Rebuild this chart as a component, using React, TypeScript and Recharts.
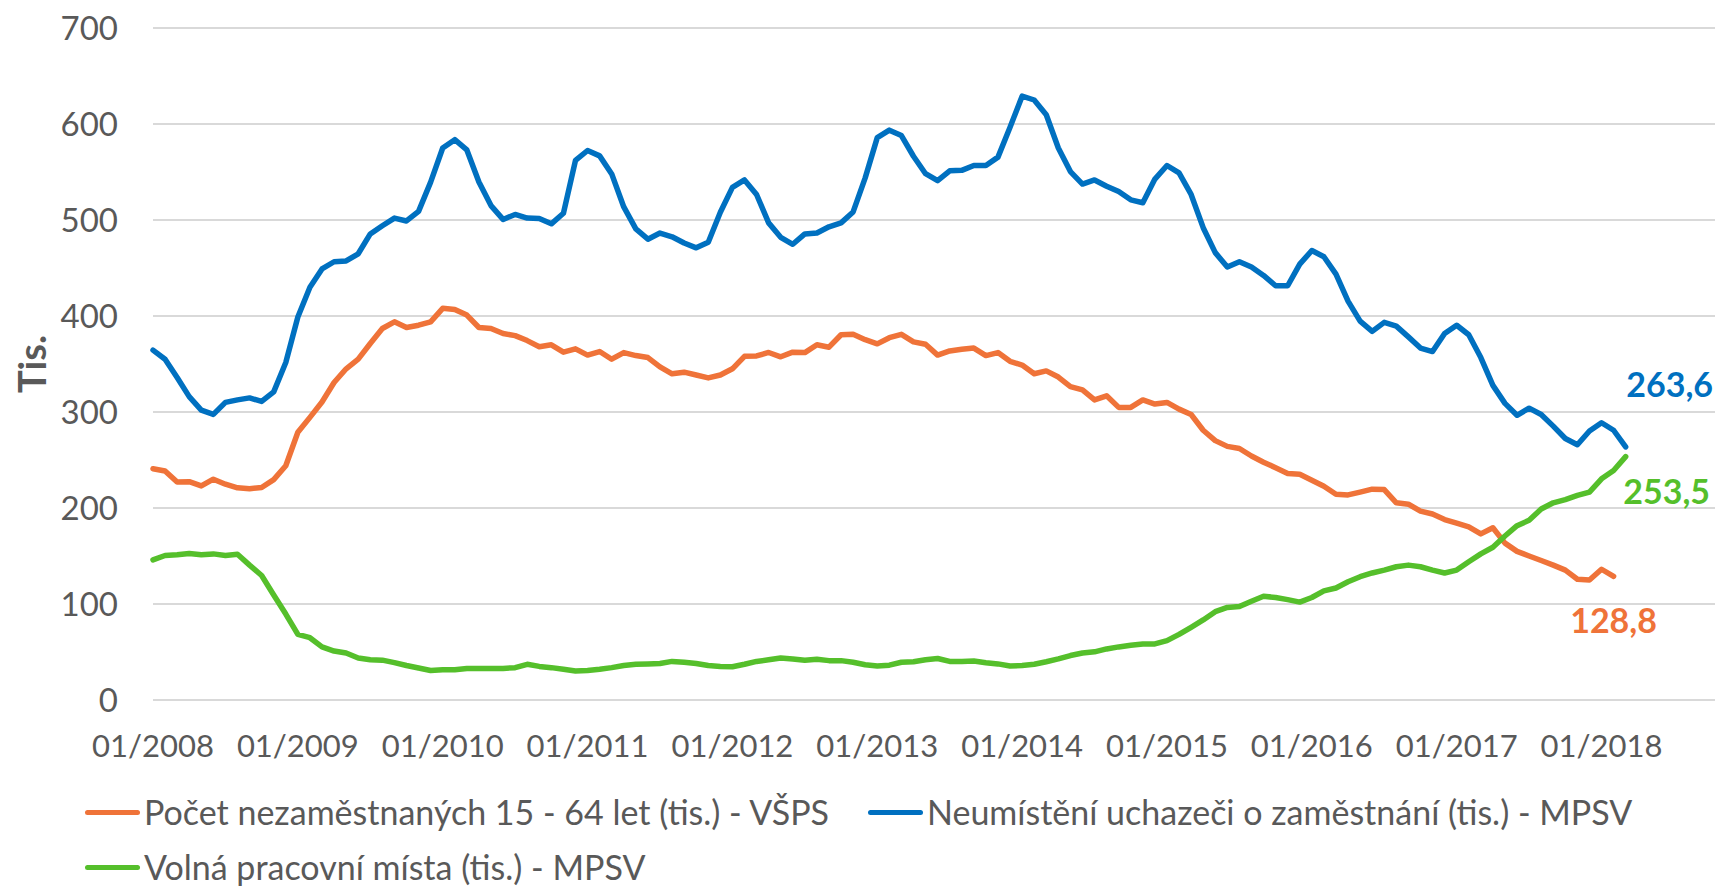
import React from 'react'
import { LineChart, Line, XAxis, YAxis, CartesianGrid } from 'recharts'

// months from 01/2008, index 0 = 01/2008
const unemployedVsps = [
  240.8, 238.6, 227, 227.4, 223, 230, 224.8, 221, 220, 221.4, 229.6, 244,
  278.9, 294.4, 310.4, 330.7, 345, 355, 371.4, 387, 393.9, 388, 390.4, 393.9,
  408, 406.8, 401, 388, 387, 381.8, 379.6, 374.4, 368, 370, 362.3, 365.8,
  359.3, 363, 355, 361.9, 358.8, 356.7, 347, 339.8, 341.5, 338.5, 335.5, 338.5,
  345, 358, 358.4, 362, 357.5, 362.3, 361.9, 370, 367.5, 380.5, 380.9, 375.3,
  371, 377.4, 380.9, 373, 370.5, 359.3, 363.6, 365.3, 366.6, 358.8, 361.9, 352.8,
  348.9, 339.8, 342.8, 336.4, 326.4, 323, 312.6, 316.9, 304.8, 304.8, 312.6, 308.3,
  310, 303, 297.4, 281, 270.2, 264.2, 262, 254.2, 247.7, 242, 236, 235.2,
  229, 222.7, 214.4, 213.6, 216.6, 219.6, 219.2, 205.4, 204, 196.7, 193.7, 188,
  184.2, 180.3, 173, 179.4, 163.4, 154.8, 150, 145.3, 140.5, 135.3, 125.8, 125,
  136.2, 128.8,
]

const jobSeekersMpsv = [
  364.5, 355, 336, 316, 302, 297.5, 310, 312.6, 314.7, 311, 321, 351.5,
  399, 430, 449, 456.5, 457.4, 464.8, 485.5, 494, 502, 499, 509, 539.5,
  575, 583.7, 573, 539.5, 515, 500.6, 505.8, 502, 501.5, 496, 507, 562,
  572.4, 566.8, 548, 513.6, 490.7, 480, 486.4, 482.5, 476, 471, 476.9, 508,
  534, 541.7, 526.6, 497, 482, 474.7, 485.5, 486.4, 492.9, 497, 508.4, 543.9,
  585.8, 593.6, 588, 566.4, 548.2, 540.9, 551.2, 551.7, 556.8, 556.8, 565.5, 596.6,
  629, 625, 609.6, 575, 550.4, 537.4, 541.7, 535.2, 529.6, 521, 518, 542.6,
  556.8, 549, 526.6, 492, 466, 451, 456.5, 451, 442.3, 431.5, 431.5, 454,
  468.2, 461.7, 443.6, 415.5, 394.7, 384, 393.4, 389.5, 378.3, 366.6, 363, 381.8,
  390.4, 380.5, 356.7, 327.7, 309, 296.6, 304, 297.4, 285.3, 272.4, 265.9, 280.2,
  288.8, 281, 263.6,
]

const vacanciesMpsv = [
  146, 150.5, 151.3, 152.6, 151.3, 152.2, 150.5, 151.8, 140.5, 129.7, 109.4, 89.5,
  68.3, 64.9, 55.3, 51, 48.9, 43.7, 41.9, 41.5, 38.9, 35.9, 33.3, 30.7,
  31.6, 31.6, 32.9, 32.9, 32.9, 32.9, 33.7, 37.2, 35, 33.7, 32, 30.3,
  30.7, 32, 33.7, 35.9, 37.2, 37.6, 38, 40.2, 39.3, 38, 35.9, 35,
  34.6, 37.2, 40.2, 41.9, 43.7, 42.8, 41.5, 42.4, 41, 41, 39.3, 36.7,
  35.5, 36.3, 39.3, 39.8, 41.9, 43.2, 40.2, 40.2, 40.6, 38.9, 37.6, 35.5,
  35.9, 37.2, 39.8, 42.8, 46.3, 48.9, 50.2, 53.2, 55.3, 57, 58.4, 58.4,
  61.8, 68.3, 75.7, 83.4, 92, 96.4, 97.3, 102.9, 108, 106.8, 104.6, 102,
  106.8, 113.7, 116.7, 123.2, 128.4, 132.3, 135.3, 138.8, 140.5, 138.8, 135.3, 132.3,
  135.3, 144, 152.2, 159.1, 170.8, 181.6, 187.2, 198.9, 205.4, 208.8, 213.1, 216.6,
  230.4, 239, 253.5,
]

const xTicks = [0, 12, 24, 36, 48, 60, 72, 84, 96, 108, 120]
const yTicks = [0, 100, 200, 300, 400, 500, 600, 700]

const series = [
  { key: 'vsps', name: 'Počet nezaměstnaných 15 - 64 let (tis.) - VŠPS', color: '#EF7339', labelDx: 0, labelDy: 44 },
  { key: 'seekers', name: 'Neumístění uchazeči o zaměstnání (tis.) - MPSV', color: '#0070C0', labelDx: 44, labelDy: -62 },
  { key: 'vacancies', name: 'Volná pracovní místa (tis.) - MPSV', color: '#55BF2B', labelDx: 41, labelDy: 35 },
]

const data = jobSeekersMpsv.map((v, i) => ({
  i,
  vsps: unemployedVsps[i],
  seekers: v,
  vacancies: vacanciesMpsv[i],
}))

const lastIndex: Record<string, number> = {
  vsps: unemployedVsps.length - 1,
  seekers: jobSeekersMpsv.length - 1,
  vacancies: vacanciesMpsv.length - 1,
}

const font = 'Lato, "Open Sans", sans-serif'
const grey = '#595959'

const endLabel = (key: string, color: string, dx: number, dy: number) => (props: any) => {
  const { x, y, index, value } = props
  if (index !== lastIndex[key] || value == null) return null
  return (
    <text
      x={x + dx}
      y={y + dy}
      dy="0.36em"
      textAnchor="middle"
      fill={color}
      fontFamily={font}
      fontWeight={700}
      fontSize={34}
    >
      {Number(value).toFixed(1).replace('.', ',')}
    </text>
  )
}

function LegendRow({ items, top }: { items: { name: string, color: string, left: number }[], top: number }) {
  return (
    <>
      {items.map(item => (
        <div
          key={item.name}
          style={{ position: 'absolute', left: item.left, top, display: 'flex', alignItems: 'center', height: 40 }}
        >
          <span style={{ display: 'inline-block', width: 55, height: 5, borderRadius: 3, background: item.color, marginRight: 4 }} />
          <span style={{ fontFamily: font, fontSize: 34, lineHeight: '40px', color: grey, whiteSpace: 'nowrap' }}>{item.name}</span>
        </div>
      ))}
    </>
  )
}

export default function App() {
  return (
    <div style={{ position: 'absolute', left: 0, top: 0, width: 1715, height: 890, background: '#fff' }}>
      <LineChart
        width={1715}
        height={890}
        data={data}
        margin={{ top: 28, right: 0, bottom: 130, left: 0 }}
      >
        <CartesianGrid vertical={false} stroke="#d9d9d9" strokeWidth={2} />
        <XAxis
          dataKey="i"
          type="number"
          domain={[0, 129.4]}
          ticks={xTicks}
          tickFormatter={(i: number) => `01/${2008 + i / 12}`}
          axisLine={false}
          tickLine={false}
          tickMargin={29}
          height={60}
          interval={0}
          tick={{ fontFamily: font, fontSize: 31, fill: grey }}
        />
        <YAxis
          domain={[0, 700]}
          ticks={yTicks}
          axisLine={false}
          tickLine={false}
          tickMargin={29}
          width={153}
          interval={0}
          tick={{ fontFamily: font, fontSize: 33, fill: grey }}
          label={{
            content: ({ viewBox }: any) => (
              <text
                x={viewBox.x + 32}
                y={viewBox.y + viewBox.height / 2}
                transform={`rotate(-90 ${viewBox.x + 32} ${viewBox.y + viewBox.height / 2})`}
                textAnchor="middle"
                dy="0.36em"
                fill={grey}
                fontFamily={font}
                fontWeight={700}
                fontSize={38}
              >
                Tis.
              </text>
            ),
          }}
        />
        {series.map(s => (
          <Line
            key={s.key}
            dataKey={s.key}
            name={s.name}
            type="linear"
            stroke={s.color}
            strokeWidth={5.5}
            strokeLinejoin="round"
            strokeLinecap="round"
            dot={false}
            activeDot={false}
            connectNulls={false}
            isAnimationActive={false}
            label={endLabel(s.key, s.color, s.labelDx, s.labelDy)}
          />
        ))}
      </LineChart>
      <LegendRow
        top={792}
        items={[
          { name: series[0].name, color: series[0].color, left: 85 },
          { name: series[1].name, color: series[1].color, left: 868 },
        ]}
      />
      <LegendRow top={847} items={[{ name: series[2].name, color: series[2].color, left: 85 }]} />
    </div>
  )
}
